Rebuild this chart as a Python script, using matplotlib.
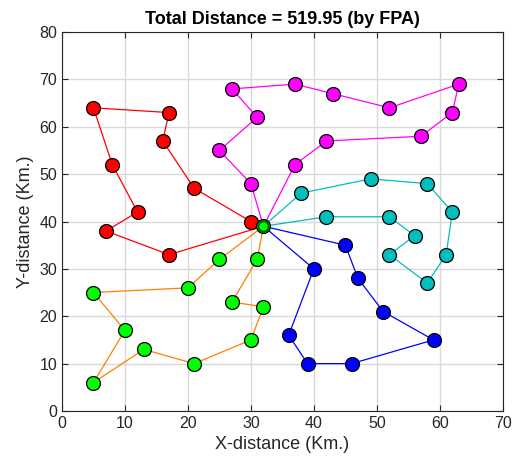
import matplotlib.pyplot as plt
import numpy as np

plt.rcParams['font.family'] = ['Liberation Sans', 'DejaVu Sans']

depot = (32, 39)

# routes (customer coordinates in visiting order)
red_x = [30, 21, 16, 17, 5, 8, 12, 7, 17]
red_y = [40, 47, 57, 63, 64, 52, 42, 38, 33]

mag_x = [30, 25, 31, 27, 37, 43, 52, 63, 62, 57, 42, 37]
mag_y = [48, 55, 62, 68, 69, 67, 64, 69, 63, 58, 57, 52]

cyan_x = [38, 49, 58, 62, 61, 58, 52, 56, 52, 42]
cyan_y = [46, 49, 48, 42, 33, 27, 33, 37, 41, 41]

blue_x = [45, 47, 51, 59, 46, 39, 36, 40]
blue_y = [35, 28, 21, 15, 10, 10, 16, 30]

grn_x = [25, 20, 5, 10, 5, 13, 21, 30, 32, 27, 31]
grn_y = [32, 26, 25, 17, 6, 13, 10, 15, 22, 23, 32]

routes = [
    (red_x, red_y, '#FF0000', '#FF0000'),
    (mag_x, mag_y, '#FF00FF', '#FF00FF'),
    (cyan_x, cyan_y, '#00BFBF', '#00BFBF'),
    (blue_x, blue_y, '#0000FF', '#0000FF'),
    (grn_x, grn_y, '#FF8000', '#00FF00'),
]

fig = plt.figure(figsize=(5.12, 4.61), dpi=100)
ax = fig.add_axes([0.121, 0.1085, 0.861, 0.822])

for xs, ys, lc, mc in routes:
    px = [depot[0]] + xs + [depot[0]]
    py = [depot[1]] + ys + [depot[1]]
    ax.plot(px, py, '-', color=lc, lw=0.9, zorder=2)
    ax.plot(xs, ys, 'o', ms=10, mfc=mc, mec='k', mew=0.9, zorder=3)

ax.plot(depot[0], depot[1], 'o', ms=10, mfc='#00FF00', mec='k', mew=0.9, zorder=4)
ax.plot(depot[0], depot[1], 'o', ms=7.5, mfc='#00FF00', mec='#006400', mew=1.5, zorder=5)

ax.set_xlim(0, 70)
ax.set_ylim(0, 80)
ax.set_xticks(np.arange(0, 71, 10))
ax.set_yticks(np.arange(0, 81, 10))
ax.grid(True, color='#D9D9D9', lw=1)
ax.set_axisbelow(True)
ax.tick_params(direction='in', top=True, right=True, labelsize=11.5,
               colors='#262626', length=4)
for s in ax.spines.values():
    s.set_color('#262626')
    s.set_linewidth(0.8)

ax.set_xlabel('X-distance (Km.)', fontsize=13, color='#262626')
ax.set_ylabel('Y-distance (Km.)', fontsize=13, color='#262626')
ax.set_title('Total Distance = 519.95 (by FPA)', fontsize=13, fontweight='bold')

fig.savefig('out.png', dpi=100)
